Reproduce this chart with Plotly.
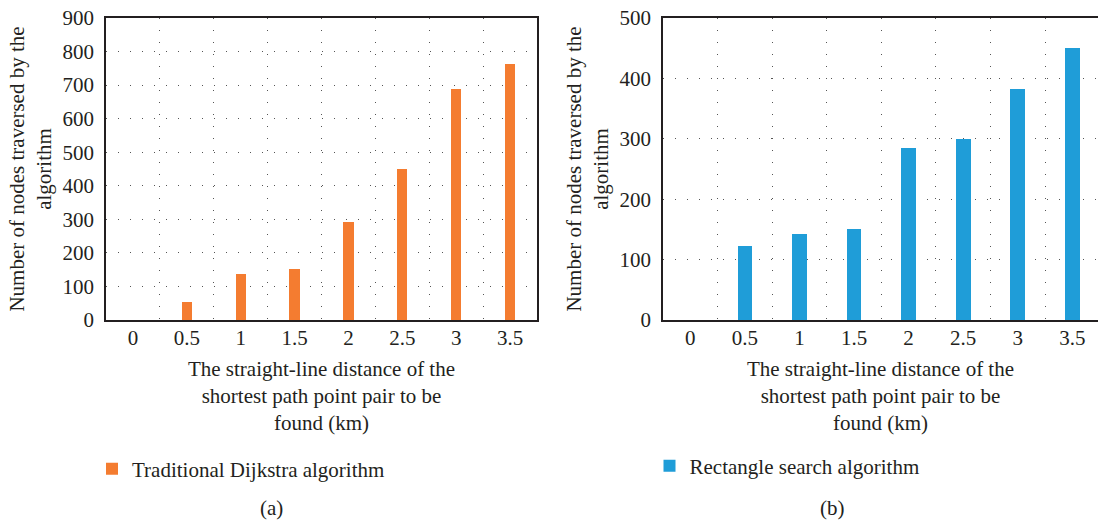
import plotly.graph_objects as go

categories = ["0", "0.5", "1", "1.5", "2", "2.5", "3", "3.5"]
dijkstra_values = [0, 55, 137, 152, 293, 450, 688, 763]
rectangle_values = [0, 122, 142, 150, 285, 300, 382, 451]

y_title = "Number of nodes traversed by the<br>algorithm"
x_title = "The straight-line distance of the<br>shortest path point pair to be<br>found (km)"

FONT = "Liberation Serif"
FS = 21
W, H = 1098, 521
TXT = "#231f20"
ORANGE = "#f47c30"
BLUE = "#1f9dd8"

fig = go.Figure()
fig.add_trace(go.Bar(x=categories, y=dijkstra_values, name="Traditional Dijkstra algorithm",
                     marker=dict(color=ORANGE, line=dict(width=0)),
                     width=0.19, xaxis="x", yaxis="y", legend="legend"))
fig.add_trace(go.Bar(x=categories, y=rectangle_values, name="Rectangle search algorithm",
                     marker=dict(color=BLUE, line=dict(width=0)),
                     width=0.27, xaxis="x2", yaxis="y2", legend="legend2"))

ydom = [1 - 320 / H, 1 - 18 / H]
grid_common = dict(showgrid=True, gridcolor="#555555", gridwidth=1, griddash="1px,11px")
axis_common = dict(showline=True, linecolor="#231f20", linewidth=1.5, mirror=True,
                   automargin=False,
                   tickfont=dict(family=FONT, size=FS, color=TXT), zeroline=False,
                   title_font=dict(family=FONT, size=FS, color=TXT))

fig.update_layout(
    width=W, height=H, margin=dict(l=0, r=0, t=0, b=0, autoexpand=False),
    paper_bgcolor="white", plot_bgcolor="white",
    font=dict(family=FONT, size=FS, color=TXT),
    bargap=0,
    xaxis=dict(domain=[106 / W, 537 / W], type="category", tickson="boundaries",
               anchor="y", ticks="", ticklabelstandoff=-2, title=dict(text=x_title, standoff=12),
               **grid_common, **axis_common),
    yaxis=dict(domain=ydom, range=[0, 900], dtick=100, anchor="x", ticks="",
               ticklabelstandoff=6, title=dict(text=y_title, standoff=5),
               **grid_common, **axis_common),
    xaxis2=dict(domain=[663 / W, 1.0], type="category", tickson="boundaries",
                anchor="y2", ticks="", ticklabelstandoff=-2, range=[-0.5, 7.47],
                title=dict(text=x_title, standoff=12),
                **grid_common, **axis_common),
    yaxis2=dict(domain=ydom, range=[0, 500], dtick=100, anchor="x2", ticks="",
                ticklabelstandoff=6, title=dict(text=y_title, standoff=5),
                **grid_common, **axis_common),
    legend=dict(x=(112 - 20) / W, y=1 - 469 / H, xanchor="left", yanchor="middle",
                font=dict(family=FONT, size=FS, color=TXT), bgcolor="rgba(0,0,0,0)"),
    legend2=dict(x=(669.5 - 20) / W, y=1 - 466 / H, xanchor="left", yanchor="middle",
                 font=dict(family=FONT, size=FS, color=TXT), bgcolor="rgba(0,0,0,0)"),
    showlegend=True,
)

fig.add_annotation(text="(a)", x=271 / W, y=1 - 508 / H, xref="paper", yref="paper",
                   xanchor="center", yanchor="middle",
                   showarrow=False, font=dict(family=FONT, size=FS, color=TXT))
fig.add_annotation(text="(b)", x=832 / W, y=1 - 508 / H, xref="paper", yref="paper",
                   xanchor="center", yanchor="middle",
                   showarrow=False, font=dict(family=FONT, size=FS, color=TXT))

fig.write_html("out.html", config={"displayModeBar": False},
               post_script="document.body.style.margin='0';document.body.style.overflow='hidden';")
